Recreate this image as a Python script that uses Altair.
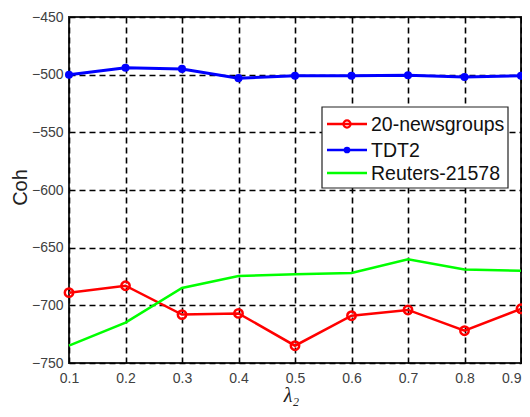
import altair as alt
import pandas as pd

lam = [0.1, 0.2, 0.3, 0.4, 0.5, 0.6, 0.7, 0.8, 0.9]
news = [-689, -683, -708, -707, -735, -709, -704, -722, -703]
tdt2 = [-500, -494, -495, -503, -501, -501, -500.5, -502, -501]
reuters = [-735, -715, -685, -674.5, -673, -672, -660, -669, -670]
series_names = ["20-newsgroups", "TDT2", "Reuters-21578"]
series_colors = ["#ff0000", "#0000ff", "#00ff00"]
y_ticks = [-750, -700, -650, -600, -550, -500, -450]

rows = []
for name, vals in zip(series_names, [news, tdt2, reuters]):
    for x, v in zip(lam, vals):
        rows.append({"lam": x, "coh": v, "series": name})
df = pd.DataFrame(rows)
one = pd.DataFrame({"k": [0]})

W, H = 452, 346

xs = alt.X("lam:Q", scale=alt.Scale(domain=[0.1, 0.9], nice=False),
           axis=alt.Axis(values=lam, format=".1f", title="λ₂",
                         labelAlign=alt.condition("datum.value >= 0.89", alt.value("right"),
                                                  alt.value("center")),
                         titleFont="Liberation Serif", titleFontStyle="italic",
                         titleFontWeight="normal", titleFontSize=20,
                         titleColor="#222222", titleBaseline="top",
                         titleY=22, titleX=222))
ys = alt.Y("coh:Q", scale=alt.Scale(domain=[-750, -450], nice=False),
           axis=alt.Axis(values=y_ticks, title="Coh", titleFontSize=20,
                         titleFontWeight="normal", titleColor="#222222",
                         titleFont="Liberation Sans", titleBaseline="alphabetic",
                         titleX=-43, titleY=170, titleAngle=-90))
col = alt.Color("series:N", scale=alt.Scale(domain=series_names, range=series_colors),
                legend=None)

base = alt.Chart(df).encode(x=xs, y=ys, color=col)

red = base.transform_filter(alt.datum.series == "20-newsgroups")
blue = base.transform_filter(alt.datum.series == "TDT2")
green = base.transform_filter(alt.datum.series == "Reuters-21578")

red_line = red.mark_line(strokeWidth=2.5)
red_pts = red.mark_point(shape="circle", size=70, strokeWidth=2.5, filled=False, opacity=1)
blue_line = blue.mark_line(strokeWidth=3)
blue_pts = blue.mark_point(shape="circle", size=65, filled=True, opacity=1)
green_line = green.mark_line(strokeWidth=2.5)

# legend box (layout only)
lx0, lx1, ly0, ly1 = 253, 439, 90, 171
box = alt.Chart(one).mark_rect(fill="white", stroke="#222222", strokeWidth=1.2).encode(
    x=alt.value(lx0), x2=alt.value(lx1), y=alt.value(ly0), y2=alt.value(ly1))
row_y = [107, 133, 156]
leg_layers = [box]
for i, (name, c) in enumerate(zip(series_names, series_colors)):
    leg_layers.append(alt.Chart(one).mark_rule(color=c, strokeWidth=2.5).encode(
        x=alt.value(258), x2=alt.value(298), y=alt.value(row_y[i])))
    leg_layers.append(alt.Chart(one).mark_text(align="left", baseline="middle", fontSize=19.5,
                                               font="Liberation Sans", color="#111111",
                                               text=name).encode(
        x=alt.value(302), y=alt.value(row_y[i] + 1)))
leg_layers.append(alt.Chart(one).mark_point(shape="circle", size=50, strokeWidth=2.2,
                                            filled=False, color="#ff0000", opacity=1).encode(
    x=alt.value(278), y=alt.value(row_y[0])))
leg_layers.append(alt.Chart(one).mark_point(shape="circle", size=45, filled=True,
                                            color="#0000ff", opacity=1).encode(
    x=alt.value(278), y=alt.value(row_y[1])))

chart = alt.layer(red_line, red_pts, green_line, blue_line, blue_pts, *leg_layers).properties(
    width=W, height=H,
    autosize=alt.AutoSizeParams(type="none"),
    padding={"left": 61, "top": 9, "right": 1, "bottom": 46},
).configure_view(
    stroke="#262626", strokeWidth=2
).configure_axis(
    grid=True, gridColor="black", gridDash=[6, 4], gridWidth=1.6, gridOpacity=1,
    domain=False, ticks=False, labelFont="Liberation Sans", labelFontSize=14,
    labelColor="#404040", labelPadding=6, labelFlush=False,
).configure_axisX(labelPadding=8)

chart.save("out.html", embed_options={"renderer": "svg", "actions": False})
